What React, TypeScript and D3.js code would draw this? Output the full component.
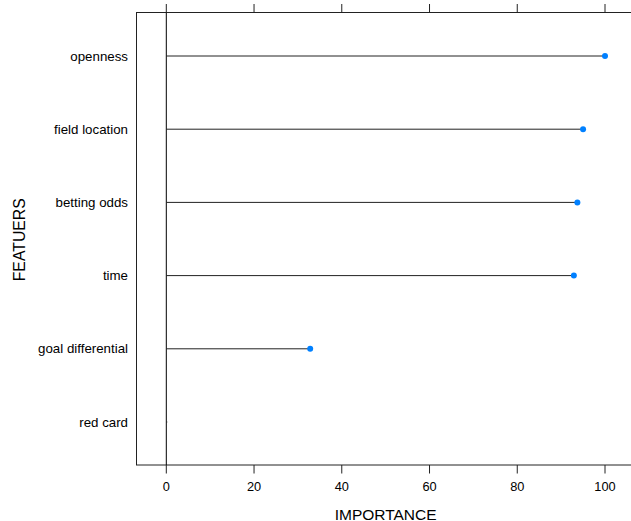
import React from "react";
import * as d3 from "d3";

const features = ["openness", "field location", "betting odds", "time", "goal differential", "red card"];
const importance = [100, 95, 93.7, 92.9, 32.8, 0];
const xTicks = [0, 20, 40, 60, 80, 100];

const W = 631;
const H = 521;

export default function App() {
  const x = d3.scaleLinear().domain([0, 100]).range([166.3, 605]);
  const y = d3.scalePoint<string>().domain(features).range([56, 422]);
  const left = x(-7);
  const top = 12.5;
  const bottom = 465;
  const font = "'Liberation Sans', Arial, Helvetica, sans-serif";

  return (
    <svg
      width={W}
      height={H}
      style={{ position: "absolute", left: 0, top: 0, background: "#fff" }}
      fontFamily={font}
    >
      <rect x={0} y={0} width={W} height={H} fill="#fff" />
      {/* panel border (right edge beyond view) */}
      <rect x={Math.round(left) + 0.5} y={top} width={W + 20} height={bottom - top} fill="none" stroke="#222" strokeWidth={1} />
      {/* reference line at 0 */}
      <line x1={x(0)} x2={x(0)} y1={top} y2={bottom} stroke="#000" strokeWidth={1} />
      {/* top ticks */}
      {xTicks.map((t) => (
        <line key={"tt" + t} x1={x(t)} x2={x(t)} y1={top} y2={top - 8.5} stroke="#222" strokeWidth={1} />
      ))}
      {/* bottom ticks and labels */}
      {xTicks.map((t) => (
        <g key={"bt" + t}>
          <line x1={x(t)} x2={x(t)} y1={bottom} y2={bottom + 8.5} stroke="#222" strokeWidth={1} />
          <text x={x(t)} y={490.5} textAnchor="middle" fontSize={12.8} fill="#000">
            {t}
          </text>
        </g>
      ))}
      {/* segments and points */}
      {features.map((f, i) => (
        <g key={f}>
          <line x1={x(0)} x2={x(importance[i]) + (importance[i] === 0 ? 1 : 0)} y1={y(f)} y2={y(f)} stroke="#222" strokeWidth={1} />
          {importance[i] > 0 && <circle cx={x(importance[i])} cy={y(f)} r={3} fill="#0080ff" />}
          <text x={128} y={(y(f) as number) + 4.6} textAnchor="end" fontSize={13.3} fill="#000">
            {f}
          </text>
        </g>
      ))}
      {/* axis titles */}
      <text x={x(50)} y={519.5} textAnchor="middle" fontSize={15.5} fill="#000">
        IMPORTANCE
      </text>
      <text
        transform={`translate(24.5,${(top + bottom) / 2 + 1}) rotate(-90)`}
        textAnchor="middle"
        fontSize={15.8}
        fill="#000"
      >
        FEATUERS
      </text>
    </svg>
  );
}
